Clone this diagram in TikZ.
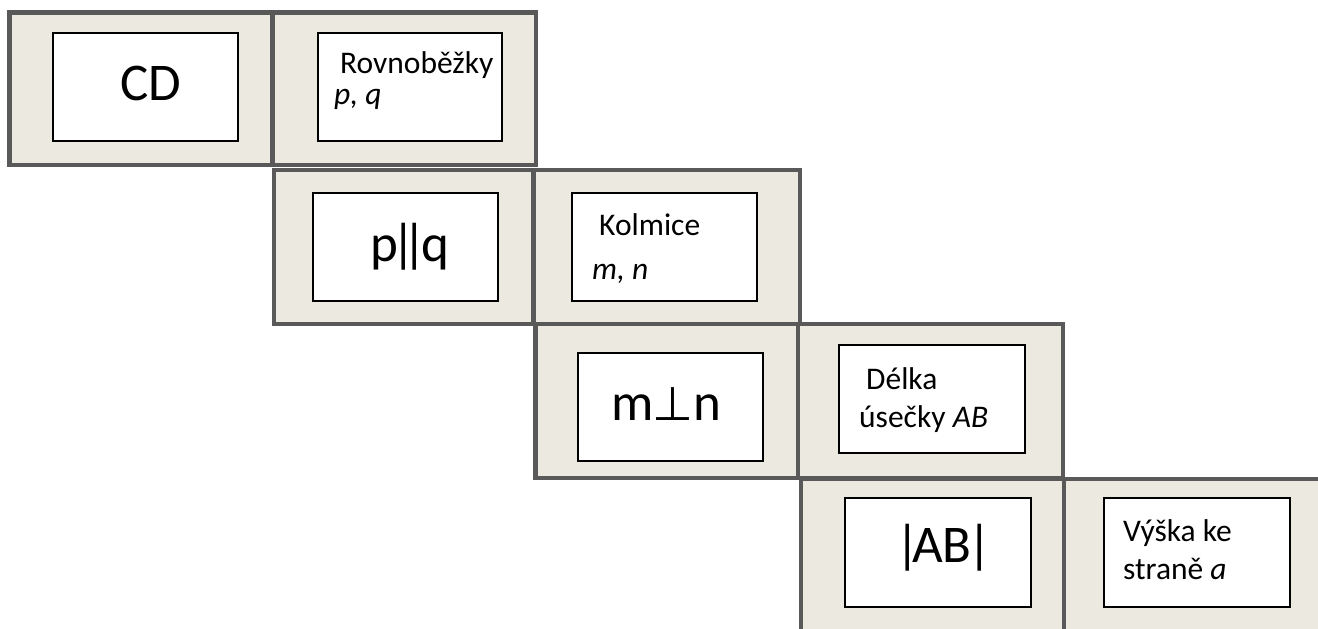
\documentclass[tikz,border=0pt]{standalone}
\usepackage{fontspec}
\setmainfont{Carlito}
\newfontfamily\symfont{DejaVu Sans}
\definecolor{cardfill}{RGB}{236,233,224}
\definecolor{cardline}{RGB}{89,89,89}
\tikzset{
  card/.style={draw=cardline, line width=4.6pt, fill=cardfill},
  divider/.style={draw=cardline, line width=4.6pt},
  inbox/.style={draw=black, line width=1.4pt, fill=white},
  small/.style={anchor=base west, inner sep=0pt, font=\fontsize{31.5}{36}\selectfont},
  big/.style={anchor=base west, inner sep=0pt, font=\fontsize{53}{60}\selectfont},
}
\begin{document}
\begin{tikzpicture}[x=1pt,y=-1pt]
\useasboundingbox (0,0) rectangle (1318,629);
\clip (0,0) rectangle (1318,629);
% row 1
\draw[card] (9.5,12.5) rectangle (536,165);
\draw[divider] (272.5,12.5) -- (272.5,165);
\draw[inbox] (53,33) rectangle (238,141);
\draw[inbox] (318,33) rectangle (502,141);
\node[big] (cd) at (120,100) {CD};
\node[small] (rov) at (340,73) {Rovnoběžky};
\node[small] (pq) at (334,104) {\itshape p, q};
% row 2
\draw[card] (274,170) rectangle (800,324);
\draw[divider] (533.5,170) -- (533.5,324);
\draw[inbox] (313,193) rectangle (498,301);
\draw[inbox] (572,193) rectangle (757,301);
\node[big] (par) at (370,261) {p\makebox[11pt]{|}\makebox[12pt]{|}q};
\node[small] (kol) at (599,235) {Kolmice};
\node[small] (mn) at (592,279) {\itshape m, n};
% row 3
\draw[card] (535.5,324) rectangle (1063,478);
\draw[divider] (798,324) -- (798,478);
\draw[inbox] (578,353) rectangle (763,461);
\draw[inbox] (839,345) rectangle (1025,453);
\node[big] (perp) at (611,420) {m\kern-1pt{\symfont\fontsize{47}{50}\selectfont ⊥}\kern0pt n};
\node[small] (del) at (866,389) {Délka};
\node[small] (use) at (859,427) {úsečky \textit{AB}};
% row 4
\draw[card] (801,479) rectangle (1327,633);
\draw[divider] (1064,479) -- (1064,633);
\draw[inbox] (845,498) rectangle (1031,607);
\draw[inbox] (1104,498) rectangle (1290,607);
\node[big] (ab) at (903,562) {\makebox[9pt]{|}AB\makebox[15pt]{|}};
\node[small] (vys) at (1123,541) {Výška ke};
\node[small] (str) at (1123,579) {straně \textit{a}};
\end{tikzpicture}
\end{document}
